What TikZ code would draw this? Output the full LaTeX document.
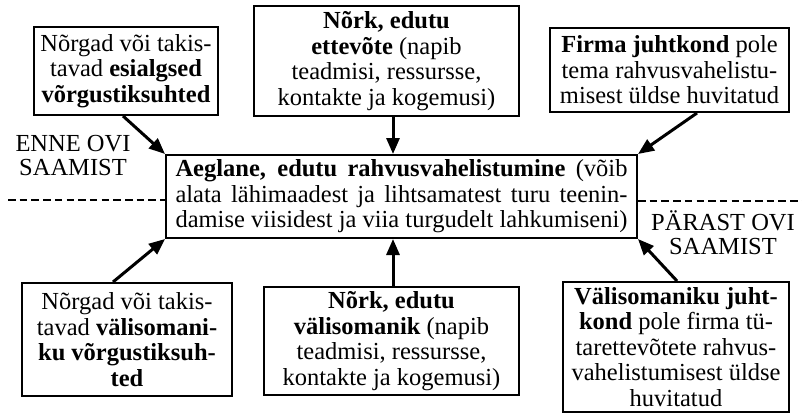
\documentclass[tikz,border=0pt]{standalone}
\usepackage{fontspec}
\setmainfont{Liberation Serif}
\usetikzlibrary{arrows.meta}
\begin{document}
\begin{tikzpicture}[x=1pt,y=-1pt,
  box/.style={draw, line width=2pt, align=center, inner sep=0pt, font=\fontsize{24.5}{25.5}\selectfont},
  arr/.style={line width=3pt, -{Triangle[length=16pt,width=13pt]}},
  sep/.style={line width=2pt, dash pattern=on 7.5pt off 4.2pt},
  lbl/.style={align=center, inner sep=0pt, font=\fontsize{24.5}{24}\selectfont}]
\useasboundingbox (0,0) rectangle (802,415);

\node[box, minimum width=184pt, minimum height=88pt] (b1) at (126,71)
  {Nõrgad või takis-\\tavad \textbf{esialgsed}\\\textbf{võrgustiksuhted}};
\node[box, minimum width=265pt, minimum height=110pt] (b2) at (386.5,61)
  {\textbf{Nõrk, edutu}\\\textbf{ettevõte} (napib\\teadmisi, ressursse,\\kontakte ja kogemusi)};
\node[box, minimum width=239pt, minimum height=84pt] (b3) at (669.5,70)
  {\textbf{Firma juhtkond} pole\\tema rahvusvahelistu-\\misest üldse huvitatud};
\node[box, minimum width=471pt, minimum height=83pt] (c) at (401.5,196.5)
  {\makebox[452pt][s]{\textbf{Aeglane, edutu rahvusvahelistumine} (võib}\\
   \makebox[452pt][s]{alata lähimaadest ja lihtsamatest turu teenin-}\\
   \makebox[452pt][s]{damise viisidest ja viia turgudelt lahkumiseni)}};
\node[box, minimum width=210pt, minimum height=113pt] (b4) at (127,339.5)
  {Nõrgad või takis-\\tavad \textbf{välisomani-}\\\textbf{ku võrgustiksuh-}\\\textbf{ted}};
\node[box, minimum width=255pt, minimum height=108pt] (b5) at (391.5,341)
  {\textbf{Nõrk, edutu}\\\textbf{välisomanik} (napib\\teadmisi, ressursse,\\kontakte ja kogemusi)};
\node[box, minimum width=226pt, minimum height=130pt] (b6) at (676,347)
  {\textbf{Välisomaniku juht-}\\\textbf{kond} pole firma tü-\\tarettevõtete rahvus-\\vahelistumisest üldse\\huvitatud};

\node[lbl] (enne) at (73,156) {ENNE OVI\\SAAMIST};
\node[lbl] (parast) at (723,233) {PÄRAST OVI\\SAAMIST};

\coordinate (dl) at (8,200);
\coordinate (dr) at (802,201);
\draw[sep] (dl) -- (dl -| c.west);
\draw[sep] (dr -| c.east) -- (dr);

\draw[arr] ([xshift=-3pt]b1.south) -- (c.north west);
\draw[arr] ([xshift=6.5pt]b2.south) -- ([xshift=-8.5pt]c.north);
\draw[arr] ([xshift=27.5pt]b3.south) -- (c.north east);
\draw[arr] ([xshift=-14pt]b4.north) -- (c.south west);
\draw[arr] ([xshift=1.5pt]b5.north) -- ([xshift=-8.5pt]c.south);
\draw[arr] ([xshift=1pt]b6.north) -- (c.south east);
\end{tikzpicture}
\end{document}
